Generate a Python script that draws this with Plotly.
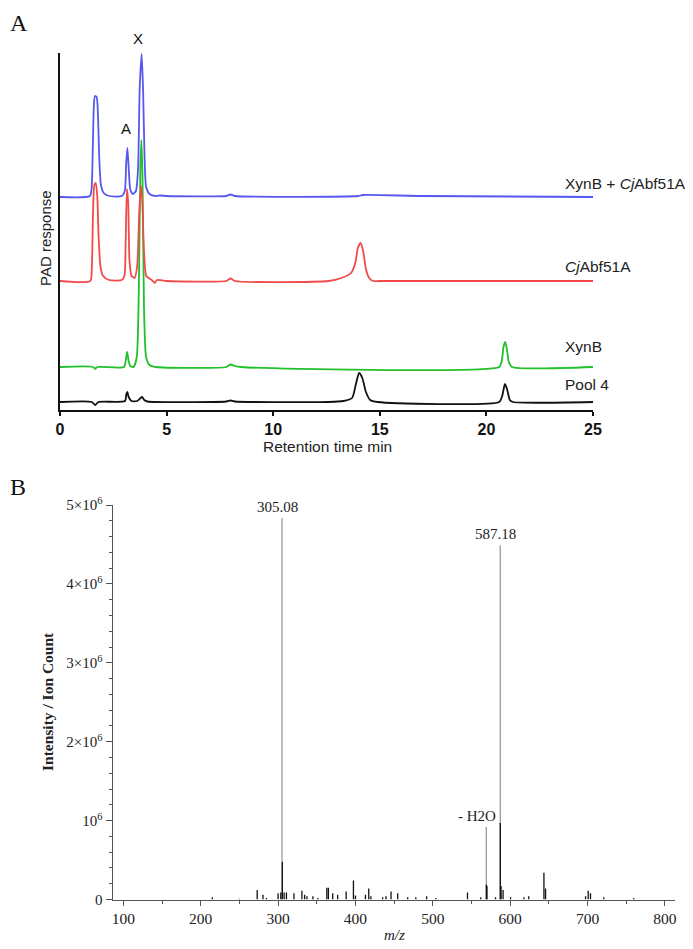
import plotly.graph_objects as go

# ---------------- Panel A data (HPAEC-PAD chromatograms) ----------------
# retention time (min) and response above each trace's own baseline (arbitrary units)
blue_t = [0, 1.40, 1.48, 1.54, 1.59, 1.64, 1.72, 1.78, 1.84, 1.92, 2.05, 2.3, 2.9, 3.04, 3.1, 3.16, 3.22, 3.3, 3.42,
          3.56, 3.66, 3.74, 3.83, 3.9, 3.96, 4.04, 4.2, 4.5, 4.7, 5.0, 7.8, 8.0, 8.2, 14.0, 14.2, 17, 25]
blue_r = [0, 1, 8, 50, 92, 101, 100, 82, 40, 12, 4, 1, 1, 6, 32, 49, 30, 7, 3,
          6, 28, 110, 143, 105, 45, 10, 3, 1, 1.5, 1, 1, 2.5, 1, 1, 2, 1, 0]

red_t = [0, 1.42, 1.49, 1.55, 1.61, 1.68, 1.75, 1.81, 1.9, 2.02, 2.3, 2.9, 3.02, 3.08, 3.14, 3.2, 3.26, 3.36, 3.5,
         3.62, 3.72, 3.8, 3.86, 3.94, 4.05, 4.3, 4.45, 4.55, 5.0, 7.8, 8.0, 8.2, 12.6, 13.2, 13.65, 13.85, 13.97,
         14.1, 14.22, 14.35, 14.5, 14.7, 15.0, 25]
red_r = [0, 0, 12, 70, 96, 98, 84, 45, 14, 5, 1, 1, 5, 40, 92, 78, 20, 5, 3,
         15, 70, 95, 80, 30, 5, 1, -2, 1, 0, 0, 2.5, 0, 0, 3, 8, 18, 33,
         38, 30, 12, 3, 0, 0, 0]

green_t = [0, 1.55, 1.65, 1.75, 3.0, 3.08, 3.15, 3.22, 3.3, 3.45, 3.6, 3.7, 3.77, 3.82, 3.87, 3.94, 4.04, 4.2, 4.5,
           7.8, 8.0, 8.2, 8.5, 20.6, 20.72, 20.8, 20.88, 20.96, 21.05, 21.2, 25]
green_r = [0, 0, -2, 0, 0, 6, 15, 6, 1, 0, 10, 80, 200, 227, 190, 60, 10, 2, 0,
           0, 2.5, 1, 0, 0, 6, 20, 25, 18, 5, 0, 0]

black_t = [0, 1.5, 1.65, 1.8, 3.05, 3.11, 3.16, 3.22, 3.35, 3.62, 3.78, 3.85, 3.95, 4.1, 7.8, 8.0, 8.2, 12.6,
           13.3, 13.7, 13.88, 14.03, 14.18, 14.35, 14.55, 14.9, 20.6, 20.74, 20.87, 20.98, 21.1, 21.25, 25]
black_r = [0, 0, -3, 0, 1, 8, 10, 5, 1, 1, 4, 5, 2, 0.5, 0.5, 1.5, 0.5, 0,
           1, 4, 18, 29, 24, 10, 2, 0, 0, 6, 18, 12, 2, 0, 0]

trace_names = ["Pool 4", "XynB", "<i>Cj</i>Abf51A", "XynB + <i>Cj</i>Abf51A"]
x_ticks_A = [0, 5, 10, 15, 20, 25]

# ---------------- Panel B data (mass spectrum) ----------------
ms_mz = [215, 250, 273, 280.5, 285, 300, 303.5, 305.5, 307.8, 310.8, 320.5, 330.8, 334.3, 337.3, 345, 351.5,
         363, 365, 370.6, 377, 388, 397.4, 400, 412.9, 417.2, 420, 435.2, 439.5, 446, 454.6, 467.5, 478,
         492, 504, 544.8, 562, 569.2, 570, 581, 587.2, 588.2, 590.8, 600.5, 617.7, 624, 643.6, 645.7,
         697.4, 700.8, 703.8, 721, 759.7]
ms_int = [30000, 10000, 120000, 60000, 20000, 80000, 90000, 480000, 90000, 90000, 80000, 110000, 60000, 40000,
          40000, 20000, 150000, 150000, 80000, 60000, 100000, 240000, 50000, 60000, 140000, 40000, 30000,
          40000, 100000, 80000, 30000, 30000, 40000, 20000, 90000, 30000, 190000, 170000, 30000, 970000,
          170000, 120000, 30000, 30000, 40000, 340000, 140000, 40000, 110000, 80000, 30000, 20000]

label_mz = [305.08, 569.17, 587.18]
label_top = [4835000, 920000, 4490000]
label_text = ["305.08", "- H2O", "587.18"]
label_shift = [-5, -9, -5]

y_ticks_B = [0, 1e6, 2e6, 3e6, 4e6, 5e6]
y_tick_text_B = ["0", "10<sup>6</sup>", "2×10<sup>6</sup>", "3×10<sup>6</sup>", "4×10<sup>6</sup>", "5×10<sup>6</sup>"]

# ---------------- layout helpers ----------------
# the page body adds an 8px margin, so the figure is shifted by OFF px; positions below are
# given in window pixels and converted to figure-paper fractions.
OFF = 8
W, H = 693 - OFF, 949 - OFF
def fx(p): return (p - OFF) / W
def fy(p): return 1 - (p - OFF) / H

offsets = {"Pool 4": 8, "XynB": 43, "<i>Cj</i>Abf51A": 129, "XynB + <i>Cj</i>Abf51A": 213}
colors = {"Pool 4": "#111111", "XynB": "#22c02a", "<i>Cj</i>Abf51A": "#f24a4a", "XynB + <i>Cj</i>Abf51A": "#5757ef"}
series = {"Pool 4": (black_t, black_r), "XynB": (green_t, green_r),
          "<i>Cj</i>Abf51A": (red_t, red_r), "XynB + <i>Cj</i>Abf51A": (blue_t, blue_r)}
label_y_px = {"Pool 4": 384, "XynB": 346, "<i>Cj</i>Abf51A": 267, "XynB + <i>Cj</i>Abf51A": 183}

fig = go.Figure()

for name in trace_names:
    t, r = series[name]
    fig.add_trace(go.Scatter(
        x=t, y=[v + offsets[name] for v in r], mode="lines",
        line=dict(color=colors[name], width=1.8, shape="spline", smoothing=0.6),
        xaxis="x", yaxis="y", showlegend=False, hoverinfo="skip"))

# grey leader lines for labelled ions
lx, ly = [], []
for m, top in zip(label_mz, label_top):
    lx += [m, m, None]
    ly += [0, top, None]
fig.add_trace(go.Scatter(x=lx, y=ly, mode="lines", line=dict(color="#9a9a9a", width=1.3),
                         xaxis="x2", yaxis="y2", showlegend=False, hoverinfo="skip"))

# spectrum sticks
sx, sy = [], []
for m, v in zip(ms_mz, ms_int):
    sx += [m, m, None]
    sy += [0, v, None]
fig.add_trace(go.Scatter(x=sx, y=sy, mode="lines", line=dict(color="#111111", width=1.3),
                         xaxis="x2", yaxis="y2", showlegend=False, hoverinfo="skip"))

sans = "Liberation Sans, Arial, sans-serif"
serif = "Liberation Serif, Times New Roman, serif"

annotations = [
    dict(text="A", x=fx(OFF), y=fy(OFF), xref="paper", yref="paper", showarrow=False,
         font=dict(family=serif, size=24, color="#111"), xanchor="left", yanchor="top"),
    dict(text="B", x=fx(OFF), y=fy(487), xref="paper", yref="paper", showarrow=False,
         font=dict(family=serif, size=24, color="#111"), xanchor="left", yanchor="middle"),
    dict(text="X", x=fx(138), y=fy(38), xref="paper", yref="paper", showarrow=False,
         font=dict(family=sans, size=15, color="#111"), xanchor="center", yanchor="middle"),
    dict(text="A", x=fx(126), y=fy(128), xref="paper", yref="paper", showarrow=False,
         font=dict(family=sans, size=15, color="#111"), xanchor="center", yanchor="middle"),
    dict(text="PAD response", x=fx(46), y=fy(238), xref="paper", yref="paper", showarrow=False,
         textangle=-90, font=dict(family=sans, size=15, color="#222"), xanchor="center", yanchor="middle"),
    dict(text="Retention time min", x=fx(327), y=fy(447), xref="paper", yref="paper", showarrow=False,
         font=dict(family=sans, size=15.5, color="#222"), xanchor="center", yanchor="middle"),
    dict(text="<b>Intensity / Ion Count</b>", x=fx(47), y=fy(702), xref="paper", yref="paper", showarrow=False,
         textangle=-90, font=dict(family=serif, size=15.5, color="#222"), xanchor="center", yanchor="middle"),
    dict(text="<i>m/z</i>", x=fx(395), y=fy(935), xref="paper", yref="paper", showarrow=False,
         font=dict(family=serif, size=15, color="#222"), xanchor="center", yanchor="middle"),
]
for name in trace_names:
    annotations.append(dict(text=name, x=fx(563), y=fy(label_y_px[name]), xref="paper", yref="paper",
                            showarrow=False, font=dict(family=sans, size=15.5, color="#222"),
                            xanchor="left", yanchor="middle"))
for m, top, txt, sh in zip(label_mz, label_top, label_text, label_shift):
    annotations.append(dict(text=txt, x=m, y=top, xref="x2", yref="y2", showarrow=False, xshift=sh,
                            yshift=1, font=dict(family=serif, size=15, color="#222"),
                            xanchor="center", yanchor="bottom"))

fig.update_layout(
    template="none",
    width=W, height=H, margin=dict(l=0, r=0, t=0, b=0, autoexpand=False),
    paper_bgcolor="white", plot_bgcolor="white", showlegend=False,
    xaxis=dict(domain=[fx(60), fx(593)], range=[0, 25], tickvals=x_ticks_A, showline=True,
               linecolor="#111", linewidth=2, ticks="outside", ticklen=4, tickwidth=2, tickcolor="#111",
               showgrid=False, zeroline=False, automargin=False,
               tickfont=dict(family=sans, size=16, color="#111", weight="bold"), anchor="y"),
    yaxis=dict(domain=[fy(410), fy(53)], range=[0, 357], showline=True, linecolor="#111", linewidth=2,
               showticklabels=False, ticks="", showgrid=False, zeroline=False, anchor="x", automargin=False),
    xaxis2=dict(domain=[fx(112.5), fx(675)], range=[86, 813], dtick=100, tick0=0, showline=True,
                linecolor="#555", linewidth=1, ticks="outside", ticklen=5, tickcolor="#555",
                minor=dict(dtick=50, ticks="outside", ticklen=3, tickcolor="#555"),
                showgrid=False, zeroline=False, automargin=False,
                tickfont=dict(family=serif, size=15.5, color="#222"), anchor="y2"),
    yaxis2=dict(domain=[fy(899.5), fy(505)], range=[0, 5e6], tickvals=y_ticks_B, ticktext=y_tick_text_B,
                showline=True, linecolor="#555", linewidth=1, ticks="outside", ticklen=6, tickcolor="#555",
                minor=dict(dtick=2e5, ticks="outside", ticklen=3, tickcolor="#555"),
                showgrid=False, zeroline=False, automargin=False,
                tickfont=dict(family=serif, size=15, color="#222"), anchor="x2"),
    annotations=annotations,
)

fig.write_html("out.html")
